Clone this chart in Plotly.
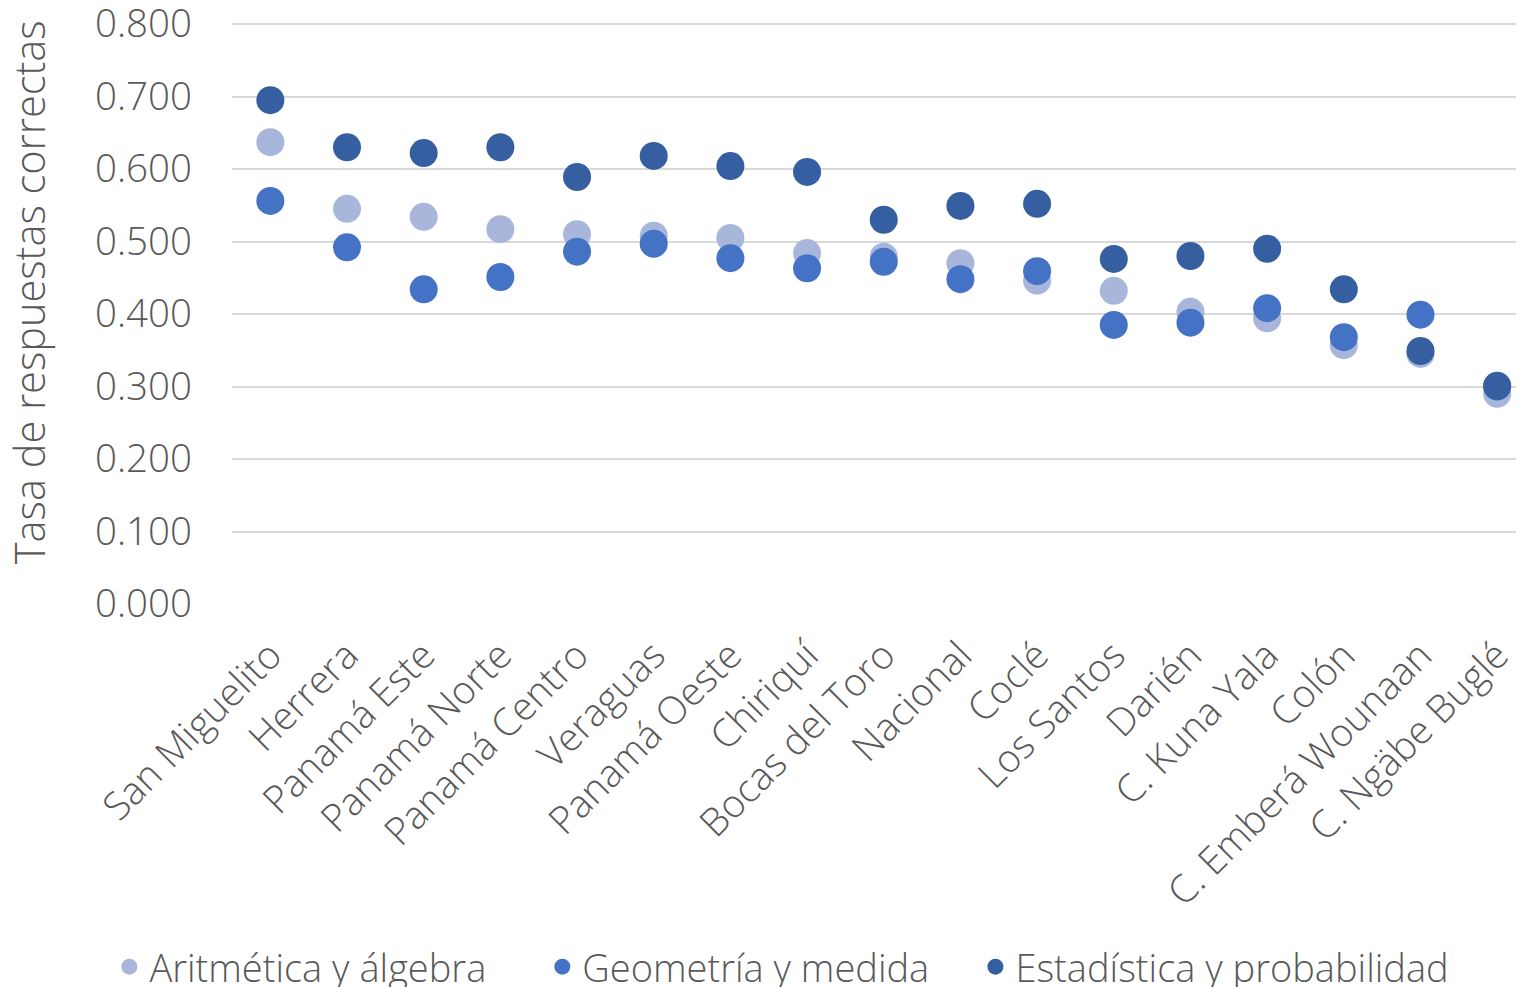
import plotly.graph_objects as go

categories = ["San Miguelito", "Herrera", "Panamá Este", "Panamá Norte", "Panamá Centro",
              "Veraguas", "Panamá Oeste", "Chiriquí", "Bocas del Toro", "Nacional", "Coclé",
              "Los Santos", "Darién", "C. Kuna Yala", "Colón", "C. Emberá Wounaan", "C. Ngäbe Buglé"]

aritmetica = [0.637, 0.545, 0.534, 0.517, 0.510, 0.508, 0.505, 0.484, 0.479, 0.470, 0.446,
              0.432, 0.403, 0.394, 0.357, 0.345, 0.290]
geometria = [0.556, 0.492, 0.434, 0.451, 0.486, 0.497, 0.477, 0.463, 0.472, 0.448, 0.459,
             0.385, 0.388, 0.408, 0.368, 0.399, 0.300]
estadistica = [0.695, 0.630, 0.622, 0.630, 0.589, 0.618, 0.604, 0.596, 0.530, 0.549, 0.552,
               0.476, 0.480, 0.490, 0.434, 0.349, 0.301]

series_names = ["Aritmética y álgebra", "Geometría y medida", "Estadística y probabilidad"]
y_ticks = [0.0, 0.1, 0.2, 0.3, 0.4, 0.5, 0.6, 0.7, 0.8]

colors = ["#A9B6DC", "#4472C4", "#355FA0"]
FONT = "Open Sans"
GRAY = "#595959"
FS = 38.5

legend_ids = ["legend", "legend2", "legend3"]
legend_x = [-0.0949, 0.2402, 0.5754]

fig = go.Figure()
for name, vals, col, lg in zip(series_names, [aritmetica, geometria, estadistica], colors, legend_ids):
    fig.add_trace(go.Scatter(
        x=categories, y=vals, mode="markers", name=name, legend=lg,
        marker=dict(color=col, size=28, line=dict(width=0)),
    ))

def legend_box(x):
    return dict(
        orientation="h", x=x, xanchor="left", y=-0.6184, yanchor="middle",
        font=dict(family=FONT, size=38, color=GRAY, weight=300),
        itemsizing="trace", bgcolor="rgba(0,0,0,0)",
    )

top = 0.8 + 7 / 725.0

fig.update_layout(
    width=1524, height=987,
    margin=dict(l=224, r=8, t=9, b=391, autoexpand=False),
    paper_bgcolor="white", plot_bgcolor="white",
    font=dict(family=FONT, color=GRAY, size=FS, weight=300),
    showlegend=True,
    legend=legend_box(legend_x[0]),
    legend2=legend_box(legend_x[1]),
    legend3=legend_box(legend_x[2]),
    xaxis=dict(
        type="category", range=[-0.5, 16.35], showgrid=False, zeroline=False,
        showline=False, ticks="", tickangle=-45, ticklabelstandoff=20,
        tickfont=dict(family=FONT, size=FS, color=GRAY, weight=300),
    ),
    yaxis=dict(
        range=[0, top], tickvals=y_ticks, tickformat=".3f",
        showgrid=True, gridcolor="#D9D9D9", gridwidth=2,
        zeroline=False, showline=False, ticks="",
        ticklabelstandoff=39, ticklabeloverflow="allow",
        tickfont=dict(family=FONT, size=FS, color=GRAY, weight=300),
    ),
    annotations=[dict(
        text="Tasa de respuestas correctas", textangle=-90,
        xref="paper", yref="paper", x=-0.1570, y=(596 - 284) / (987 - 391 - 9),
        xanchor="center", yanchor="middle", showarrow=False,
        font=dict(family=FONT, size=41.5, color=GRAY, weight=300),
    )],
)

fig.write_html("out.html")
